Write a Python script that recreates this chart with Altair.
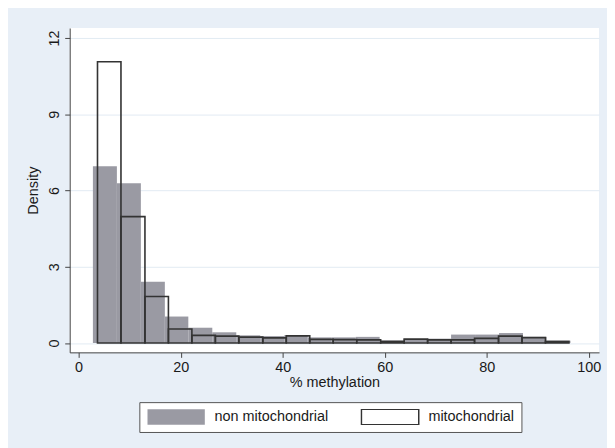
import altair as alt
import pandas as pd

# Bin edges (% methylation) and densities
non_mito_edges = [2.8, 7.5, 12.2, 16.9, 21.5, 26.2, 30.9, 35.6, 40.3, 44.9, 49.6,
                  54.3, 59.0, 63.7, 68.3, 73.0, 77.7, 82.4, 87.1, 91.7, 96.4]
non_mito_density = [6.95, 6.28, 2.41, 1.04, 0.60, 0.42, 0.30, 0.27, 0.30, 0.22,
                    0.22, 0.24, 0.10, 0.16, 0.17, 0.33, 0.33, 0.39, 0.24, 0.09]

mito_edges = [3.7, 8.3, 13.0, 17.6, 22.2, 26.8, 31.4, 36.1, 40.7, 45.3, 49.9,
              54.5, 59.2, 63.8, 68.4, 73.0, 77.6, 82.3, 86.9, 91.5, 96.1]
mito_density = [11.06, 4.97, 1.83, 0.55, 0.30, 0.27, 0.23, 0.20, 0.28, 0.14,
                0.13, 0.12, 0.06, 0.15, 0.12, 0.12, 0.18, 0.27, 0.21, 0.06]

series_names = ["non mitochondrial", "mitochondrial"]
x_ticks = [0, 20, 40, 60, 80, 100]
y_ticks = [0, 3, 6, 9, 12]

rows = []
for i, d in enumerate(non_mito_density):
    rows.append({"start": non_mito_edges[i], "end": non_mito_edges[i + 1],
                 "density": d, "series": series_names[0], "ord": 0})
for i, d in enumerate(mito_density):
    rows.append({"start": mito_edges[i], "end": mito_edges[i + 1],
                 "density": d, "series": series_names[1], "ord": 1})
df = pd.DataFrame(rows)

FONT = "Liberation Sans"
GRAY = "#9a9aa3"
DARK = "#333333"

legend_cfg = dict(title=None, orient="none", direction="horizontal",
                  legendX=70, legendY=376)

chart = alt.Chart(df).mark_bar(strokeWidth=1.6).encode(
    x=alt.X("start:Q",
            scale=alt.Scale(domain=[-1.75, 102], nice=False, zero=False),
            axis=alt.Axis(values=x_ticks, title="% methylation", grid=False,
                          tickSize=5, labelPadding=3, titlePadding=2,
                          format="d")),
    x2="end:Q",
    y=alt.Y("density:Q",
            scale=alt.Scale(domain=[-0.37, 12.39], nice=False, zero=False),
            axis=alt.Axis(values=y_ticks, title="Density", grid=True,
                          tickSize=5, labelAngle=270, labelAlign="center",
                          labelBaseline="bottom", labelPadding=3,
                          titlePadding=6, format="d")),
    y2=alt.datum(0),
    fill=alt.Fill("series:N",
                  scale=alt.Scale(domain=series_names, range=[GRAY, "transparent"]),
                  legend=alt.Legend(**legend_cfg)),
    stroke=alt.Stroke("series:N",
                      scale=alt.Scale(domain=series_names, range=["transparent", DARK]),
                      legend=alt.Legend(**legend_cfg)),
    order=alt.Order("ord:Q"),
).properties(
    width=532,
    height=326,
    background="#e8eff7",
    padding={"left": 62, "top": 19, "right": 8, "bottom": 95},
    autosize=alt.AutoSizeParams(type="none"),
).configure_view(
    fill="white", stroke=None
).configure_axis(
    labelFont=FONT, titleFont=FONT, labelFontSize=14.5, titleFontSize=14.5,
    labelColor="#1a1a1a", titleColor="#1a1a1a", titleFontWeight="normal",
    domainColor="#444444", tickColor="#444444", domainWidth=1, tickWidth=1,
    gridColor="#e2ebf3", gridWidth=1,
).configure_legend(
    labelFont=FONT, labelFontSize=14.5, labelColor="#1a1a1a",
    fillColor="white", strokeColor="#555555", padding=7,
    symbolType="M-1,-0.2726H1V0.2726H-1Z", symbolSize=3318,
    symbolStrokeWidth=1.5, clipHeight=16, labelOffset=8.5, columnPadding=32,
)

chart.save("out.html", embed_options={"renderer": "svg", "actions": False})
